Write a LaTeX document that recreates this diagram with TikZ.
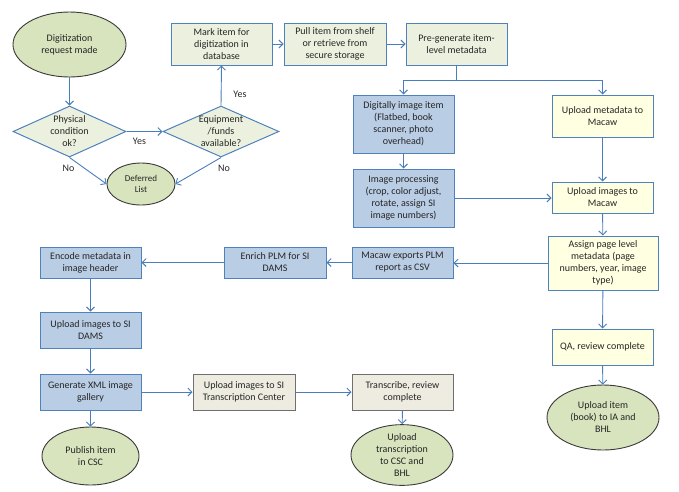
\documentclass[tikz,border=0pt]{standalone}
\usepackage{fontspec}
\setmainfont{Carlito}
\usetikzlibrary{shapes.geometric,arrows.meta}
\definecolor{bordblue}{HTML}{4F81BD}
\definecolor{linblue}{HTML}{4A7EBB}
\definecolor{lgreen}{HTML}{EBF1DE}
\definecolor{tgreen}{HTML}{D7E4BD}
\definecolor{lblue}{HTML}{B9CDE5}
\definecolor{lyellow}{HTML}{FFFFE1}
\definecolor{lgray}{HTML}{EEECE1}
\definecolor{tborder}{HTML}{3A3A3A}
\definecolor{gborder}{HTML}{6F6F6F}
\tikzset{
  x=1pt, y=-1pt,
  every node/.style={font=\fontsize{10}{12}\selectfont, text=black!85},
  box/.style={rectangle, draw=bordblue, line width=1pt, minimum width=101pt, minimum height=42pt, inner sep=1pt, align=center},
  greenbox/.style={box, fill=lgreen},
  bluebox/.style={box, fill=lblue},
  yellowbox/.style={box, fill=lyellow},
  graybox/.style={box, fill=lgray, draw=gborder},
  term/.style={ellipse, draw=tborder, line width=0.9pt, fill=tgreen, inner sep=0pt, align=center},
  decision/.style={diamond, draw=bordblue, line width=1pt, fill=lgreen, inner sep=0pt},
  dtext/.style={align=center, inner sep=0pt},
  lbl/.style={inner sep=1pt},
  arr/.style={draw=linblue, line width=0.9pt, -{Straight Barb[length=4pt,width=8pt]}}
}
\begin{document}
\begin{tikzpicture}
\useasboundingbox (0,0) rectangle (679,491);
% top-left
\node[term, minimum width=113pt, minimum height=65pt] (start) at (69.5,44.5) {Digitization\\request made};
\node[decision, minimum width=113pt, minimum height=51pt] (d1) at (69.5,131.5) {};
\node[dtext] at (d1) {Physical\\condition\\ok?};
\node[decision, minimum width=116pt, minimum height=51pt] (d2) at (221,131.5) {};
\node[dtext] at (d2) {Equipment\\/funds\\available?};
\node[term, minimum width=68pt, minimum height=42pt, font=\fontsize{9}{11}\selectfont] (def) at (141,184) {Deferred\\List};
\node[greenbox] (mark) at (221.5,44) {Mark item for\\digitization in\\database};
\node[greenbox, minimum width=102pt] (pull) at (335,44) {Pull item from shelf\\or retrieve from\\secure storage};
\node[greenbox] (pregen) at (456.5,44) {Pre-generate item-\\level metadata};
% middle columns
\node[bluebox, minimum height=58pt] (digi) at (403.5,124) {Digitally image item\\(Flatbed, book\\scanner, photo\\overhead)};
\node[yellowbox] (upmeta) at (602.5,116) {Upload metadata to\\Macaw};
\node[bluebox, minimum height=58pt] (proc) at (403.5,198) {Image processing\\(crop, color adjust,\\rotate, assign SI\\image numbers)};
\node[yellowbox, minimum height=31pt] (upimg) at (602.5,197.5) {Upload images to\\Macaw};
\node[yellowbox, minimum width=110pt, minimum height=54pt] (assign) at (603,263) {Assign page level\\metadata (page\\numbers, year, image\\type)};
\node[bluebox, minimum height=31pt] (macexp) at (402.5,262.5) {Macaw exports PLM\\report as CSV};
\node[bluebox, minimum width=102pt, minimum height=31pt] (enrich) at (275,262.5) {Enrich PLM for SI\\DAMS};
\node[bluebox, minimum height=31pt] (encode) at (90.5,262.5) {Encode metadata in\\image header};
\node[bluebox, minimum height=36pt] (dams) at (90.5,330) {Upload images to SI\\DAMS};
\node[bluebox, minimum height=36pt] (xml) at (90.5,392) {Generate XML image\\gallery};
\node[term, minimum width=97pt, minimum height=58pt] (publish) at (90.5,456) {Publish item\\in CSC};
\node[graybox, minimum width=102pt, minimum height=36pt] (trans) at (244,392) {Upload images to SI\\Transcription Center};
\node[graybox, minimum height=36pt] (transcribe) at (402.5,392) {Transcribe, review\\complete};
\node[term, minimum width=102pt, minimum height=56pt] (uptrans) at (402,455) {Upload\\transcription\\to CSC and\\BHL};
\node[yellowbox, minimum height=36pt] (qa) at (602.5,347) {QA, review complete};
\node[term, minimum width=112pt, minimum height=65pt] (upitem) at (603,417.5) {Upload item\\(book) to IA and\\BHL};
% connectors
\draw[arr] (start) -- (d1);
\draw[arr] (d1.east) -- (d2.west);
\node[lbl] at ([xshift=13pt,yshift=-10pt]d1.east) {Yes};
\draw[arr] (d1.south) -- (def.west);
\node[lbl] at ([xshift=-1pt,yshift=-11pt]d1.south) {No};
\draw[arr] (d2.south) -- (def.east);
\node[lbl] at ([xshift=3pt,yshift=-11pt]d2.south) {No};
\draw[arr] (d2.north) -- (mark.south);
\node[lbl] at ([xshift=19pt,yshift=11pt]d2.north) {Yes};
\draw[arr] (mark) -- (pull);
\draw[arr] (pull) -- (pregen);
\coordinate (split) at ([yshift=-15pt]pregen.south);
\draw[arr] (pregen.south) -- (split) -| (digi.north);
\draw[arr] (split) -| (upmeta.north);
\draw[arr] (digi) -- (proc);
\draw[arr] (upmeta) -- (upimg);
\draw[arr] (proc.east) -- (proc.east -| upimg.west);
\draw[arr] (upimg) -- (assign);
\draw[arr] (assign.west) -- (assign.west -| macexp.east);
\draw[arr] (macexp) -- (enrich);
\draw[arr] (enrich) -- (encode);
\draw[arr] (encode) -- (dams);
\draw[arr] (dams) -- (xml);
\draw[arr] (xml) -- (publish);
\draw[arr] (xml) -- (trans);
\draw[arr] (trans) -- (transcribe);
\draw[arr] (transcribe) -- (uptrans);
\draw[arr] (assign) -- (qa);
\draw[arr] (qa) -- (upitem);
\end{tikzpicture}
\end{document}
